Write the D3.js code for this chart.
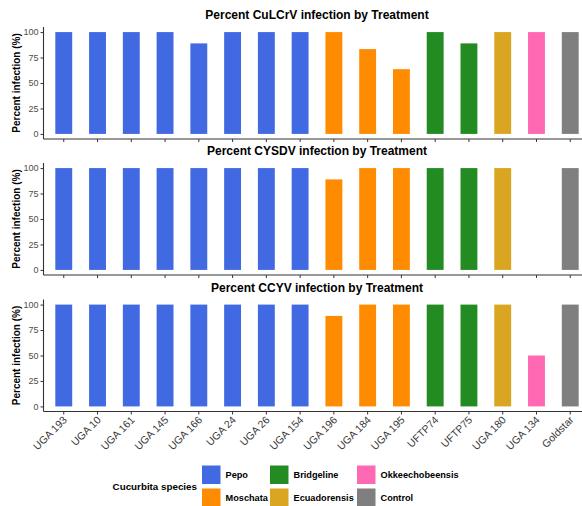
<!DOCTYPE html>
<html>
<head>
<meta charset="utf-8">
<script src="https://cdn.jsdelivr.net/npm/d3@7"></script>
<style>
  html, body { margin: 0; padding: 0; background: #fff; }
  svg { display: block; font-family: "Liberation Sans", Arial, Helvetica, sans-serif; }
</style>
</head>
<body>
<svg id="chart" width="582" height="506"></svg>
<script>
// Treatments (cultivars / accessions) in plotting order
const treatments = ["UGA 193", "UGA 10", "UGA 161", "UGA 145", "UGA 166", "UGA 24", "UGA 26", "UGA 154",
                    "UGA 196", "UGA 184", "UGA 195", "UFTP74", "UFTP75", "UGA 180", "UGA 134", "Goldstar"];
// Cucurbita species of each treatment
const species = ["Pepo", "Pepo", "Pepo", "Pepo", "Pepo", "Pepo", "Pepo", "Pepo",
                 "Moschata", "Moschata", "Moschata", "Bridgeline", "Bridgeline", "Ecuadorensis", "Okkeechobeensis", "Control"];
// Percent infection per virus
const culcrv = [100, 100, 100, 100, 88.9, 100, 100, 100, 100, 83.3, 63.6, 100, 88.9, 100, 100, 100];
const cysdv  = [100, 100, 100, 100, 100, 100, 100, 100, 88.9, 100, 100, 100, 100, 100, 0, 100];
const ccyv   = [100, 100, 100, 100, 100, 100, 100, 100, 88.9, 100, 100, 100, 100, 100, 50, 100];
const panelTitles = ["Percent CuLCrV infection by Treatment",
                     "Percent CYSDV infection by Treatment",
                     "Percent CCYV infection by Treatment"];
const yTicks = [0, 25, 50, 75, 100];
const speciesOrder = ["Pepo", "Moschata", "Bridgeline", "Ecuadorensis", "Okkeechobeensis", "Control"];
const speciesColors = ["#4169E1", "#FF8C00", "#228B22", "#DAA520", "#FF69B4", "#7F7F7F"];

const svg = d3.select("#chart");
const color = d3.scaleOrdinal().domain(speciesOrder).range(speciesColors);

const left = 43.5, right = 590.5;
const x = d3.scaleBand().domain(treatments).range([left, right])
  .paddingInner(0.5).paddingOuter(0.35);

const panelTops = [27, 163, 299.5];
const panelH = 112;
const series = [culcrv, cysdv, ccyv];
const axisColor = "#333333";
const tickText = "#4D4D4D";

series.forEach((vals, p) => {
  const top = panelTops[p], bottom = top + panelH;
  const y = d3.scaleLinear().domain([-5, 105]).range([bottom, top]);
  const g = svg.append("g");

  // title
  g.append("text")
    .attr("x", (left + right) / 2).attr("y", top - 8)
    .attr("text-anchor", "middle")
    .attr("font-size", "12px").attr("font-weight", "bold").attr("fill", "#000")
    .text(panelTitles[p]);

  // bars
  g.selectAll("rect.bar").data(treatments).join("rect")
    .attr("class", "bar")
    .attr("x", d => x(d))
    .attr("width", x.bandwidth())
    .attr("y", (d, i) => y(vals[i]))
    .attr("height", (d, i) => Math.max(0, y(0) - y(vals[i])))
    .attr("fill", (d, i) => color(species[i]));

  // y axis
  const ya = g.append("g").attr("transform", `translate(${left},0)`)
    .call(d3.axisLeft(y).tickValues(yTicks).tickSize(3).tickPadding(2));
  ya.select(".domain").attr("stroke", axisColor).attr("stroke-width", 1.1)
    .attr("d", `M0,${top}V${bottom}`);
  ya.selectAll(".tick line").attr("stroke", axisColor);
  ya.selectAll(".tick text").attr("fill", tickText).attr("font-size", "9px")
    .attr("font-family", "Liberation Sans, Arial, sans-serif");

  // x axis (labels drawn separately, rotated, on the bottom panel only)
  const xa = g.append("g").attr("transform", `translate(0,${bottom})`)
    .call(d3.axisBottom(x).tickSize(3).tickFormat(""));
  xa.select(".domain").attr("stroke", axisColor).attr("stroke-width", 1.1)
    .attr("d", `M${left},0H${right}`);
  xa.selectAll(".tick line").attr("stroke", axisColor);

  if (p === series.length - 1) {
    g.append("g").selectAll("text").data(treatments).join("text")
      .attr("transform", d => `translate(${x(d) + x.bandwidth() / 2 + 4},${bottom + 9}) rotate(-45)`)
      .attr("text-anchor", "end")
      .attr("font-size", "10.5px")
      .attr("fill", "#3a3a3a")
      .text(d => d);
  }

  // y axis title
  g.append("text")
    .attr("transform", `translate(20,${y(50)}) rotate(-90)`)
    .attr("text-anchor", "middle")
    .attr("font-size", "10px").attr("font-weight", "bold").attr("fill", "#000")
    .text("Percent infection (%)");
});

// legend
const legend = svg.append("g");
legend.append("text")
  .attr("x", 197).attr("y", 490).attr("text-anchor", "end")
  .attr("font-size", "9.8px").attr("font-weight", "bold").attr("fill", "#000")
  .text("Cucurbita species");

const colX = [202, 270, 357];
const rowY = [465.5, 488.5];
const key = 18.5;
speciesOrder.forEach((s, i) => {
  const col = Math.floor(i / 2), row = i % 2;
  legend.append("rect")
    .attr("x", colX[col]).attr("y", rowY[row])
    .attr("width", key).attr("height", key)
    .attr("fill", color(s));
  legend.append("text")
    .attr("x", colX[col] + key + 5).attr("y", rowY[row] + key / 2 + 3.3)
    .attr("font-size", "9.2px").attr("font-weight", "bold").attr("fill", "#000")
    .text(s);
});
</script>
</body>
</html>
